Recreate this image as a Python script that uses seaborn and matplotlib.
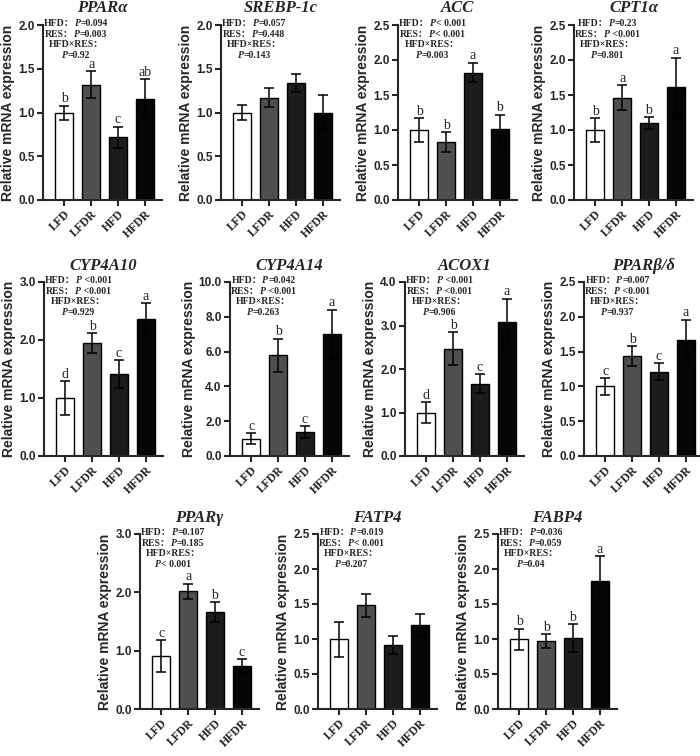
import numpy as np
import pandas as pd
import matplotlib
matplotlib.use("Agg")
import matplotlib.pyplot as plt
from matplotlib.ticker import FormatStrFormatter
from matplotlib.offsetbox import TextArea, HPacker, VPacker, AnchoredOffsetbox
import seaborn as sns

# groups and bar fills
groups = ["LFD", "LFDR", "HFD", "HFDR"]
bar_colors = ["#ffffff", "#4f4f4f", "#1c1c1c", "#050505"]

genes = ["PPARα", "SREBP-1c", "ACC", "CPT1α",
         "CYP4A10", "CYP4A14", "ACOX1", "PPARβ/δ",
         "PPARγ", "FATP4", "FABP4"]

mean_vals = [
    [1.00, 1.32, 0.72, 1.16],
    [1.00, 1.17, 1.34, 1.00],
    [1.00, 0.83, 1.82, 1.01],
    [1.00, 1.46, 1.10, 1.61],
    [1.00, 1.95, 1.41, 2.37],
    [1.00, 5.80, 1.37, 7.00],
    [1.00, 2.47, 1.66, 3.09],
    [1.00, 1.44, 1.21, 1.67],
    [0.91, 2.02, 1.66, 0.73],
    [1.00, 1.48, 0.91, 1.20],
    [1.00, 0.97, 1.01, 1.83],
]
sem_vals = [
    [0.08, 0.15, 0.12, 0.22],
    [0.09, 0.11, 0.10, 0.20],
    [0.17, 0.14, 0.14, 0.21],
    [0.17, 0.18, 0.08, 0.42],
    [0.29, 0.17, 0.24, 0.26],
    [0.30, 0.95, 0.33, 1.40],
    [0.23, 0.38, 0.22, 0.52],
    [0.12, 0.14, 0.12, 0.29],
    [0.27, 0.13, 0.17, 0.12],
    [0.25, 0.17, 0.13, 0.16],
    [0.15, 0.10, 0.20, 0.35],
]
sig_letters = [
    ["b", "a", "c", "ab"],
    ["", "", "", ""],
    ["b", "b", "a", "b"],
    ["b", "a", "b", "a"],
    ["d", "b", "c", "a"],
    ["c", "b", "c", "a"],
    ["d", "b", "c", "a"],
    ["c", "b", "c", "a"],
    ["c", "a", "b", "c"],
    ["", "", "", ""],
    ["b", "b", "b", "a"],
]
p_hfd = ["=0.094", "=0.057", "< 0.001", "=0.23", " <0.001", "=0.042",
         " <0.001", "=0.007", "=0.107", "=0.019", "=0.036"]
p_res = ["=0.003", "=0.448", "< 0.001", " <0.001", " <0.001", " <0.001",
         " <0.001", " <0.001", "=0.185", "< 0.001", "=0.059"]
p_int = ["=0.92", "=0.143", "=0.003", "=0.801", "=0.929", "=0.263",
         "=0.906", "=0.937", "< 0.001", "=0.207", "=0.04"]
y_max = [2.0, 2.0, 2.5, 2.5, 3.0, 10.0, 4.0, 2.5, 3.0, 2.5, 2.5]
y_step = [0.5, 0.5, 0.5, 0.5, 1.0, 2.0, 1.0, 0.5, 1.0, 0.5, 0.5]

sns.set_style("ticks")
plt.rcParams["font.family"] = ["Liberation Sans", "DejaVu Sans"]

SERIF = ["Liberation Serif", "Noto Sans CJK SC"]
W, H = 700, 756
ax_w = 119
# (bottom px, top px) per row and left px per panel
rows = [(200, 25), (456, 282), (709, 534)]
lefts = [[43, 221, 398, 574], [44, 230, 405, 584], [140, 318, 498]]

fig = plt.figure(figsize=(7, 7.56), dpi=100)


def p_line(label, pval):
    parts = []
    if label:
        parts.append(TextArea(label, textprops=dict(family=SERIF, weight="bold", size=7)))
    parts.append(TextArea("P", textprops=dict(family=SERIF, weight="bold", style="italic", size=7)))
    parts.append(TextArea(pval, textprops=dict(family=SERIF, weight="bold", size=7)))
    return HPacker(children=parts, align="baseline", pad=0, sep=0)


k = 0
for r, (bot, top) in enumerate(rows):
    for left in lefts[r]:
        ax = fig.add_axes([left / W, 1 - bot / H, ax_w / W, (bot - top) / H])
        df = pd.DataFrame({"group": groups, "value": mean_vals[k]})
        sns.barplot(data=df, x="group", y="value", hue="group", order=groups,
                    hue_order=groups, palette=bar_colors, dodge=False, legend=False,
                    width=0.68, edgecolor="black", linewidth=1, errorbar=None, ax=ax)
        ax.errorbar(range(4), mean_vals[k], yerr=sem_vals[k], fmt="none",
                    ecolor="black", elinewidth=1.1, capsize=3.5, capthick=1.1, zorder=3)
        for i, let in enumerate(sig_letters[k]):
            if let:
                ax.text(i, mean_vals[k][i] + sem_vals[k][i] + y_max[k] * 0.003, let,
                        ha="center", va="bottom", family="Liberation Serif", size=10)

        ax.set_xlim(-0.8, 3.65)
        ax.set_ylim(0, y_max[k])
        ax.set_yticks(np.arange(0, y_max[k] + y_step[k] / 2, y_step[k]))
        ax.yaxis.set_major_formatter(FormatStrFormatter("%.1f"))
        for t in ax.get_yticklabels():
            t.set_fontweight("bold")
            t.set_fontsize(8.5)
        ax.set_xticks(range(4))
        ax.set_xticklabels(groups, rotation=45, ha="right", rotation_mode="anchor",
                           family="Liberation Serif", weight="bold", size=8.5)
        ax.tick_params(width=1.5, length=4, pad=2)
        sns.despine(ax=ax)
        for s in ["left", "bottom"]:
            ax.spines[s].set_linewidth(1.5)
        ax.set_xlabel("")
        ax.set_ylabel("Relative mRNA expression", weight="bold", size=10, labelpad=2)
        ax.set_title(genes[k], family="Liberation Serif", style="italic",
                     weight="bold", size=12, pad=9)

        block = VPacker(children=[p_line("HFD：", p_hfd[k]),
                                  p_line("RES：", p_res[k]),
                                  HPacker(children=[TextArea("HFD×RES：", textprops=dict(
                                      family=SERIF, weight="bold", size=7))], pad=0, sep=0),
                                  p_line("", p_int[k])],
                        align="center", pad=0, sep=1.2)
        box = AnchoredOffsetbox(loc="upper left", child=block, pad=0, borderpad=0,
                                frameon=False, bbox_to_anchor=(0.01, 1.035),
                                bbox_transform=ax.transAxes)
        ax.add_artist(box)
        k += 1

fig.savefig("out.png", dpi=100)
